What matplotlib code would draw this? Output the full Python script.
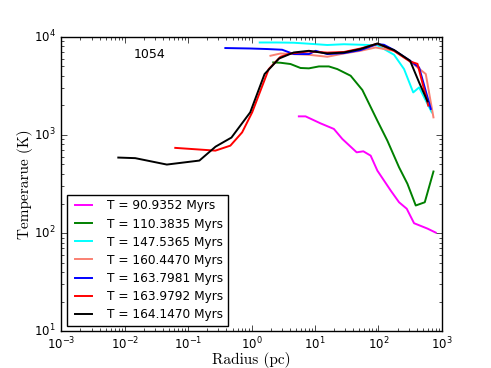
import matplotlib
matplotlib.use("Agg")
import matplotlib.pyplot as plt

plt.style.use('classic')
plt.rcParams['mathtext.fontset'] = 'cm'

labels = ["T = 90.9352 Myrs", "T = 110.3835 Myrs", "T = 147.5365 Myrs",
          "T = 160.4470 Myrs", "T = 163.7981 Myrs", "T = 163.9792 Myrs",
          "T = 164.1470 Myrs"]
colors = ["magenta", "green", "cyan", "salmon", "blue", "red", "black"]

r_magenta = [5.55, 7.08, 12.2, 19.8, 26.9, 45.3, 57.7, 75.3, 96, 156, 211, 279, 364, 593, 801]
T_magenta = [1546, 1546, 1312, 1151, 910, 665, 681, 615, 433, 271, 206, 177, 126, 111, 101]

r_green = [2.19, 2.85, 4.1, 5.9, 8.0, 11.5, 16.5, 22.4, 36.4, 55.7, 96, 138, 211, 286, 387, 537, 736]
T_green = [5480, 5440, 5280, 4810, 4770, 4990, 4990, 4690, 4010, 2870, 1397, 875, 468, 318, 191, 206, 424]

r_cyan = [1.34, 2.5, 4.6, 8.0, 15.6, 28.5, 52, 96, 176, 253, 353, 437, 692]
T_cyan = [8750, 8750, 8700, 8500, 8250, 8400, 8300, 8200, 6560, 4690, 2710, 3050, 1700]

r_salmon = [1.98, 2.85, 8.0, 15.6, 28.5, 52, 90, 176, 315, 557, 736]
T_salmon = [6410, 6760, 6560, 6260, 6760, 7200, 7780, 7200, 5610, 4175, 1510]

r_blue = [0.385, 0.957, 1.8, 3.03, 4.6, 8.0, 10.2, 15.6, 28.5, 52, 96, 122, 176, 315, 437, 668]
T_blue = [7680, 7600, 7500, 7380, 6670, 6670, 7200, 6670, 6820, 7320, 8430, 8290, 7320, 5700, 4870, 1840]

r_red = [0.0625, 0.268, 0.462, 0.708, 1.02, 1.86, 2.85, 4.1, 8.0, 15.6, 28.5, 52, 96, 176, 315, 412, 610]
T_red = [738, 692, 778, 1062, 1700, 4690, 6260, 6760, 7100, 6900, 7000, 7600, 8500, 7200, 5600, 5300, 1990]

r_black = [0.0079, 0.0146, 0.046, 0.15, 0.27, 0.48, 0.95, 1.6, 2.7, 4.6, 8.0, 15.6, 28.5, 52, 96, 176, 315, 437, 593]
T_black = [588, 580, 499, 548, 760, 940, 1700, 4175, 6000, 6920, 7200, 6760, 6920, 7500, 8550, 7320, 5700, 3430, 2200]

series = [(r_magenta, T_magenta), (r_green, T_green), (r_cyan, T_cyan),
          (r_salmon, T_salmon), (r_blue, T_blue), (r_red, T_red), (r_black, T_black)]

fig = plt.figure(figsize=(4.91, 3.68), dpi=100, facecolor='white')
ax = fig.add_axes([0.125, 0.1, 0.775, 0.8])
for (r, T), lab, c in zip(series, labels, colors):
    ax.plot(r, T, color=c, lw=1.4, label=lab)

ax.set_xscale('log')
ax.set_yscale('log')
ax.set_xlim(1e-3, 1e3)
ax.set_ylim(10, 1e4)
ax.tick_params(labelsize=8.5)
ax.tick_params(axis='x', pad=3)
ax.set_xlabel('Radius (pc)', fontsize=11, family=['cmr10', 'DejaVu Serif'])
ax.xaxis.set_label_coords(0.5, -0.072)
ax.set_ylabel('Temperarue (K)', fontsize=11, family=['cmr10', 'DejaVu Serif'])
ax.yaxis.set_label_coords(-0.074, 0.5)
ax.text(0.19, 0.94, '1054', transform=ax.transAxes, fontsize=9, va='center', ha='left')
leg = ax.legend(loc='lower left', fontsize=8.7, frameon=True, handlelength=2.0,
                handletextpad=0.9, borderaxespad=0.45, labelspacing=0.42)
leg.get_frame().set_linewidth(1.0)
fig.savefig('out.png', dpi=100, facecolor='white')
